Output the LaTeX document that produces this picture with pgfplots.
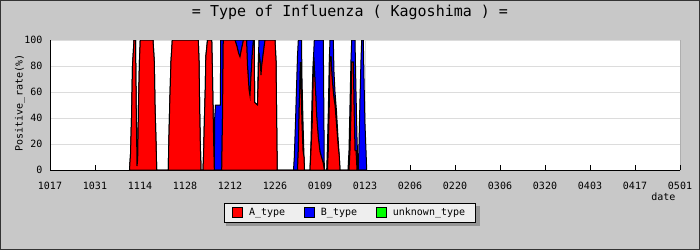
\documentclass[border=0pt]{standalone}
\usepackage{pgfplots}
\pgfplotsset{compat=1.18}
\usepackage{pgfplotstable}
\usepackage{fontspec}
\setmainfont{DejaVu Sans Mono}
\definecolor{bg}{RGB}{200,200,200}
\definecolor{legbg}{RGB}{238,238,238}
\definecolor{shadowc}{RGB}{150,150,150}
\definecolor{gridc}{RGB}{220,220,220}

% d = days since 17 Oct, A = A_type (%), B = B_type (%), stacked
\pgfplotstableread{
d A B
24.733 0 0
25.044 12 0
25.356 40 0
25.667 80 0
26.133 100 0
26.600 100 0
26.818 50 0
27.067 3 0
27.284 8 0
27.533 50 0
27.844 85 0
28.093 100 0
32.044 100 0
32.449 83 0
32.667 50 0
32.978 22 0
33.196 0 0
36.804 0 0
36.898 14 0
37.240 50 0
37.644 84 0
38.049 100 0
46.138 100 0
46.356 84 0
46.573 45 0
46.760 20 0
46.978 0 0
47.600 0 0
47.787 12 0
48.067 42 0
48.316 63 0
48.471 87 0
49.000 100 0
50.307 100 0
50.493 80 0
50.711 50 0
50.929 20 0
51.116 0 0
51.240 0 40
51.490 0 50
52.980 0 50
53.110 0 100
53.420 0 100
53.670 40 60
53.910 100 0
57.556 100 0
58.178 95 5
58.644 90 10
59.111 87 13
59.578 93 7
60.200 100 0
61.133 100 0
61.444 80 20
61.911 62 38
62.222 57 43
62.533 72 28
63.000 92 8
63.311 100 0
63.560 100 0
63.653 52 0
64.556 50 0
64.804 70 15
65.022 90 10
65.427 82 18
65.644 73 27
65.862 80 20
66.267 88 12
66.889 100 0
70.000 100 0
70.311 84 0
70.467 50 0
70.684 0 0
75.756 0 0
76.004 0 10
76.378 0 37
76.689 0 63
77.000 0 88
77.249 15 85
77.560 50 50
77.933 83 17
78.244 50 50
78.400 35 35
78.711 15 22
79.022 10 0
79.178 0 0
80.889 0 0
81.200 15 7
81.604 37 26
81.822 63 17
82.040 87 3
82.227 80 20
82.351 72 28
82.662 58 42
82.973 41 59
83.471 25 75
84.000 14 86
85.027 5 95
85.338 0 0
86.084 0 0
86.333 0 20
86.582 15 30
86.893 50 35
87.111 87 13
87.422 87 13
87.733 72 28
88.138 60 40
88.356 55 20
88.667 50 10
89.133 35 10
89.600 20 5
90.004 10 0
90.222 0 0
92.711 0 0
93.022 0 15
93.333 15 35
93.644 45 40
93.862 83 17
94.360 83 17
94.578 50 50
94.889 15 85
95.200 15 45
95.511 0 25
95.822 0 0
95.916 0 0
96.133 0 20
96.444 0 55
96.756 0 85
96.973 0 100
97.471 0 100
97.689 0 70
98.000 0 35
98.311 0 15
98.529 0 0
}\flu

\begin{document}
\begin{tikzpicture}[x=1pt,y=1pt]
\fill[bg] (0,0) rectangle (700,250);
\draw[black!80, line width=1pt] (0.5,0.5) rectangle (699.5,249.5);
\node[font=\fontsize{15}{15}\selectfont] at (350,237.5) {= Type of Influenza ( Kagoshima ) =};
\node[rotate=90, font=\fontsize{10}{10}\selectfont] at (20,147) {Positive\_rate(\%)};
\node[anchor=east, font=\fontsize{10}{10}\selectfont] at (679,53) {date};
% legend shadow
\fill[shadowc] (226,24) rectangle (480,44.5);
\begin{axis}[
  at={(50pt,80pt)}, anchor=south west, scale only axis,
  width=630pt, height=130pt,
  xmin=0, xmax=196, ymin=0, ymax=100,
  axis background/.style={fill=white},
  axis x line*=bottom, axis y line*=left,
  stack plots=y,
  xtick={0,14,...,196},
  xticklabels={1017,1031,1114,1128,1212,1226,0109,0123,0206,0220,0306,0320,0403,0417,0501},
  ytick={0,20,...,100},
  ymajorgrids, grid style={gridc, line width=1pt},
  tick align=inside, major tick length=5pt,
  xtick style={black, line width=0.8pt},
  ytick style={draw=none},
  axis line style={line width=1pt, -},
  ticklabel style={font=\fontsize{10}{10}\selectfont},
  xticklabel style={yshift=-9pt},
  yticklabel style={xshift=-4pt},
  /pgf/number format/assume math mode=true,
  legend columns=3,
  legend image code/.code={\draw[#1, draw=black, line width=0.8pt] (0pt,-5pt) rectangle (10pt,5pt);},
  legend style={at={(0.4757,-0.327)}, anchor=center, draw=black, fill=legbg, line width=0.8pt,
    font=\fontsize{10}{10}\selectfont,
    inner xsep=8pt, inner ysep=3pt,
    /tikz/every odd column/.append style={column sep=4pt},
    /tikz/every even column/.append style={column sep=17pt}},
]
\addplot[fill=red, draw=black, line width=1pt] table[x=d,y=A]{\flu} \closedcycle;
\addlegendentry{A\_type}
\addplot[fill=blue, draw=black, line width=1pt] table[x=d,y=B]{\flu} \closedcycle;
\addlegendentry{B\_type}
\addlegendimage{fill=green, draw=black}
\addlegendentry{unknown\_type}
\draw[gridc, line width=1pt] (axis cs:98.3,0) -- (axis cs:98.3,100);
\draw[black, line width=1pt] (rel axis cs:1,0) -- (rel axis cs:1,1);
\end{axis}
\end{tikzpicture}
\end{document}
